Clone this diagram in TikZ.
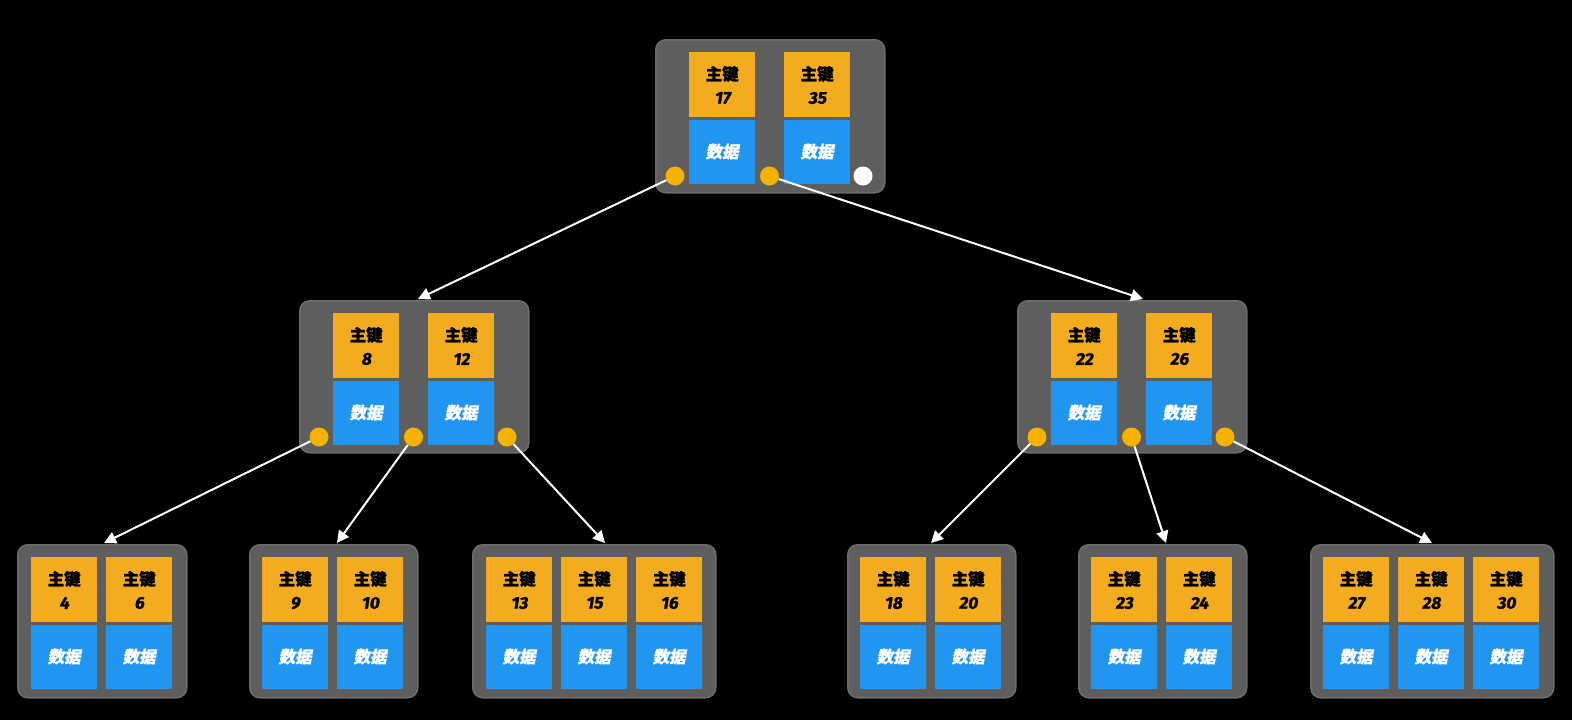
\documentclass[tikz,border=0pt]{standalone}
\usepackage{fontspec}
\usetikzlibrary{arrows.meta,calc}
\newfontfamily\cjkk{Noto Sans CJK SC}[FakeBold=1.6]
\newfontfamily\cjkd{Noto Sans CJK SC}[FakeSlant=0.18,FakeBold=1.2]
\newfontfamily\numf{Fira Sans}[FakeSlant=0.15,FakeBold=1.6]
\definecolor{bggray}{HTML}{5E5E5E}
\definecolor{bgedge}{HTML}{6C6C6C}
\definecolor{keyor}{HTML}{F3AC20}
\definecolor{datab}{HTML}{2196F1}
\definecolor{dotor}{HTML}{F6B200}
\tikzset{
  gbox/.style={fill=bggray,draw=bgedge,line width=1.5pt,rounded corners=10pt,anchor=north west,inner sep=0pt},
  keybox/.style={fill=keyor,minimum width=66pt,minimum height=65pt,anchor=north west,inner sep=0pt},
  databox/.style={fill=datab,minimum width=66pt,minimum height=64pt,anchor=north west,inner sep=0pt,
    text=white,font=\cjkd\bfseries\fontsize{16.5}{18}\selectfont},
  keytxt/.style={font=\cjkk\bfseries\fontsize{16.5}{18}\selectfont,text=black,inner sep=0pt},
  numtxt/.style={font=\numf\bfseries\fontsize{17}{18}\selectfont,text=black,inner sep=0pt},
  dot/.style={circle,fill=dotor,minimum size=19pt,inner sep=0pt},
  wdot/.style={circle,fill=white,minimum size=19pt,inner sep=0pt},
  arr/.style={draw=white,line width=2pt,-{Triangle[length=12pt,width=12pt]}},
}
% name, left x, top y, number
\newcommand\kcell[4]{%
  \node[keybox] (#1k) at (#2,#3) {};
  \node[keytxt] (#1a) at ($(#1k.north)+(0,22)$) {主键};
  \node[numtxt] (#1n) at ($(#1k.north)+(0,46)$) {#4};
  \node[databox] (#1d) at ($(#1k.south west)+(0,2)$) {数据};
}
\begin{document}
\begin{tikzpicture}[x=1pt,y=-1pt]
\useasboundingbox[fill=black] (0,0) rectangle (1572,720);
% root
\node[gbox,minimum width=229pt,minimum height=153pt] (root) at (655,39) {};
\kcell{r1}{689}{52}{17}
\kcell{r2}{784}{52}{35}
\node[dot] (rc1) at (675,176) {};
\node[dot] (rc2) at (769.5,176) {};
\node[wdot] (rc3) at (863,176) {};
% middle left
\node[gbox,minimum width=229pt,minimum height=152pt] (ml) at (299,300) {};
\kcell{m1}{333}{313}{8}
\kcell{m2}{428}{313}{12}
\node[dot] (mlc1) at (319,437) {};
\node[dot] (mlc2) at (413.5,437) {};
\node[dot] (mlc3) at (507,437) {};
% middle right
\node[gbox,minimum width=229pt,minimum height=152pt] (mr) at (1017,300) {};
\kcell{m3}{1051}{313}{22}
\kcell{m4}{1146}{313}{26}
\node[dot] (mrc1) at (1037,437) {};
\node[dot] (mrc2) at (1131.5,437) {};
\node[dot] (mrc3) at (1225,437) {};
% leaves
\node[gbox,minimum width=169pt,minimum height=153pt] (l1) at (17,544) {};
\kcell{a1}{31}{557}{4}
\kcell{a2}{106}{557}{6}
\node[gbox,minimum width=168pt,minimum height=153pt] (l2) at (249,544) {};
\kcell{b1}{262}{557}{9}
\kcell{b2}{337}{557}{10}
\node[gbox,minimum width=243pt,minimum height=153pt] (l3) at (472,544) {};
\kcell{c1}{486}{557}{13}
\kcell{c2}{561}{557}{15}
\kcell{c3}{636}{557}{16}
\node[gbox,minimum width=168pt,minimum height=153pt] (l4) at (847,544) {};
\kcell{d1}{860}{557}{18}
\kcell{d2}{935}{557}{20}
\node[gbox,minimum width=168pt,minimum height=153pt] (l5) at (1078,544) {};
\kcell{e1}{1091}{557}{23}
\kcell{e2}{1166}{557}{24}
\node[gbox,minimum width=243pt,minimum height=153pt] (l6) at (1310,544) {};
\kcell{f1}{1323}{557}{27}
\kcell{f2}{1398}{557}{28}
\kcell{f3}{1473}{557}{30}
% arrow targets
\coordinate (tml) at (418,299);
\coordinate (tmr) at (1143,299);
\coordinate (t1) at (104,543);
\coordinate (t2) at (337,543);
\coordinate (t3) at (605,543);
\coordinate (t4) at (931,543);
\coordinate (t5) at (1166,543);
\coordinate (t6) at (1432,543);
\draw[arr] (rc1) -- (tml);
\draw[arr] (rc2) -- (tmr);
\draw[arr] (mlc1) -- (t1);
\draw[arr] (mlc2) -- (t2);
\draw[arr] (mlc3) -- (t3);
\draw[arr] (mrc1) -- (t4);
\draw[arr] (mrc2) -- (t5);
\draw[arr] (mrc3) -- (t6);
\end{tikzpicture}
\end{document}
